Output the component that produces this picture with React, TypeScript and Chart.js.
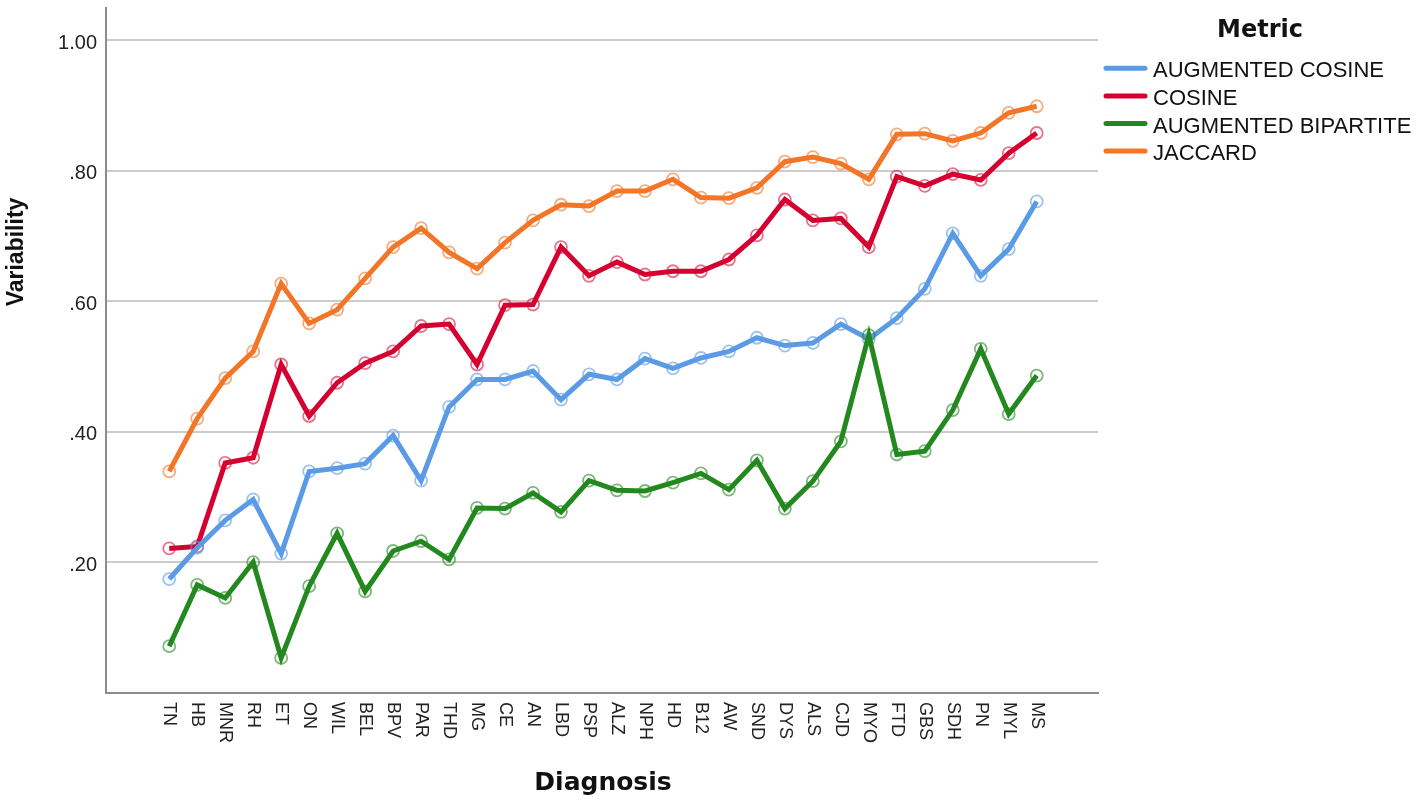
import React, { useEffect, useRef } from "react";
import { Chart, registerables } from "chart.js";

Chart.register(...registerables);

const diagnoses = ["TN", "HB", "MNR", "RH", "ET", "ON", "WIL", "BEL", "BPV", "PAR", "THD", "MG", "CE", "AN", "LBD", "PSP", "ALZ", "NPH", "HD", "B12", "AW", "SND", "DYS", "ALS", "CJD", "MYO", "FTD", "GBS", "SDH", "PN", "MYL", "MS"];

const augmentedCosine = [0.174, 0.222, 0.264, 0.296, 0.213, 0.339, 0.344, 0.351, 0.394, 0.325, 0.438, 0.480, 0.480, 0.493, 0.449, 0.488, 0.480, 0.512, 0.497, 0.513, 0.523, 0.544, 0.532, 0.536, 0.565, 0.542, 0.574, 0.619, 0.704, 0.639, 0.680, 0.753];
const cosine = [0.221, 0.224, 0.352, 0.360, 0.503, 0.424, 0.475, 0.505, 0.523, 0.562, 0.565, 0.503, 0.594, 0.595, 0.683, 0.639, 0.660, 0.641, 0.646, 0.646, 0.664, 0.701, 0.756, 0.724, 0.727, 0.683, 0.791, 0.777, 0.795, 0.786, 0.827, 0.858];
const augmentedBipartite = [0.071, 0.165, 0.145, 0.200, 0.053, 0.163, 0.244, 0.155, 0.217, 0.232, 0.204, 0.283, 0.282, 0.306, 0.277, 0.325, 0.310, 0.309, 0.322, 0.336, 0.311, 0.356, 0.282, 0.324, 0.385, 0.548, 0.365, 0.370, 0.433, 0.527, 0.427, 0.486];
const jaccard = [0.339, 0.420, 0.482, 0.523, 0.627, 0.566, 0.587, 0.635, 0.683, 0.712, 0.675, 0.650, 0.690, 0.724, 0.748, 0.746, 0.769, 0.769, 0.787, 0.759, 0.758, 0.774, 0.814, 0.821, 0.811, 0.787, 0.856, 0.857, 0.846, 0.858, 0.889, 0.899];

const yTicks = [0.2, 0.4, 0.6, 0.8, 1.0];

const seriesNames = ["AUGMENTED COSINE", "COSINE", "AUGMENTED BIPARTITE", "JACCARD"];
const seriesColors = ["#5B9BE6", "#D5002F", "#23891F", "#F27528"];
const ringColors = ["rgba(91,155,230,0.6)", "rgba(213,0,47,0.55)", "rgba(35,137,31,0.6)", "rgba(242,117,40,0.6)"];
const seriesValues = [augmentedCosine, cosine, augmentedBipartite, jaccard];

const xTitle = "Diagnosis";
const yTitle = "Variability";
const legendTitle = "Metric";

const overlayPlugin = {
  id: "overlay",
  afterDraw(chart: any) {
    const ctx = chart.ctx as CanvasRenderingContext2D;
    const xs = chart.scales.x;
    ctx.save();
    ctx.fillStyle = "#222";
    ctx.font = '18px "Liberation Sans", Arial, sans-serif';
    ctx.textAlign = "left";
    ctx.textBaseline = "middle";
    diagnoses.forEach((lab, i) => {
      const x = xs.getPixelForValue(i);
      ctx.save();
      ctx.translate(x, 702);
      ctx.rotate(Math.PI / 2);
      ctx.fillText(lab, 0, 0);
      ctx.restore();
    });
    ctx.fillStyle = "#111";
    ctx.font = 'bold 25px "DejaVu Sans", sans-serif';
    ctx.textAlign = "center";
    ctx.textBaseline = "alphabetic";
    ctx.fillText(xTitle, 603, 790);
    ctx.save();
    ctx.translate(17, 252);
    ctx.rotate(-Math.PI / 2);
    ctx.font = 'bold 23px "Liberation Sans", Arial, sans-serif';
    ctx.textAlign = "center";
    ctx.textBaseline = "middle";
    ctx.fillText(yTitle, 0, 0);
    ctx.restore();
    ctx.font = 'bold 24px "DejaVu Sans", sans-serif';
    ctx.textAlign = "center";
    ctx.textBaseline = "alphabetic";
    ctx.fillText(legendTitle, 1260, 36.5);
    ctx.font = '22px "Liberation Sans", Arial, sans-serif';
    ctx.textAlign = "left";
    seriesNames.forEach((name, k) => {
      const cy = 68.3 + k * 27.6;
      ctx.strokeStyle = seriesColors[k];
      ctx.lineWidth = 5;
      ctx.lineCap = "round";
      ctx.beginPath();
      ctx.moveTo(1106, cy);
      ctx.lineTo(1145, cy);
      ctx.stroke();
      ctx.fillStyle = "#111";
      ctx.fillText(name, 1153, cy + 9);
    });
    ctx.restore();
  },
};

export default function App() {
  const canvasRef = useRef<HTMLCanvasElement | null>(null);

  useEffect(() => {
    if (!canvasRef.current) return;
    const datasets = seriesNames.map((name, k) => ({
      label: name,
      data: seriesValues[k].map((v, i) => ({ x: i, y: v })),
      borderColor: seriesColors[k],
      backgroundColor: seriesColors[k],
      borderWidth: 5,
      pointRadius: 6,
      pointBorderWidth: 1.8,
      pointBorderColor: ringColors[k],
      pointBackgroundColor: "rgba(255,255,255,0)",
      tension: 0,
      order: k === 2 ? 0 : 1,
    }));
    const chart = new Chart(canvasRef.current, {
      type: "line",
      data: { datasets },
      plugins: [overlayPlugin],
      options: {
        animation: false,
        responsive: false,
        layout: { padding: { top: 3, right: 320, left: 0, bottom: 0 } },
        plugins: { legend: { display: false }, tooltip: { enabled: false } },
        scales: {
          x: {
            type: "linear",
            min: -2.26,
            max: 33.19,
            grid: { display: false },
            border: { display: true, color: "#8c8c8c", width: 2 },
            ticks: { display: false },
            afterFit: (s: any) => {
              s.height = 112.5;
            },
          },
          y: {
            type: "linear",
            min: 0,
            max: 1.05,
            grid: { color: "#cccccc", lineWidth: 2, drawTicks: false },
            border: { display: true, color: "#8c8c8c", width: 2 },
            ticks: {
              padding: 9,
              labelOffset: 3,
              color: "#222",
              font: { family: '"Liberation Sans", Arial, sans-serif', size: 20 },
              callback: (v: any) => Number(v).toFixed(2).replace(/^0/, ""),
            },
            afterBuildTicks: (s: any) => {
              s.ticks = yTicks.map((v) => ({ value: v }));
            },
            afterFit: (s: any) => {
              s.width = 106;
              s.paddingTop = 0;
              s.paddingBottom = 0;
            },
          },
        },
      },
    });
    return () => chart.destroy();
  }, []);

  return (
    <div style={{ position: "fixed", left: 0, top: 0, width: 1418, height: 805, background: "#fff" }}>
      <canvas ref={canvasRef} width={1418} height={805} style={{ display: "block" }} />
    </div>
  );
}
